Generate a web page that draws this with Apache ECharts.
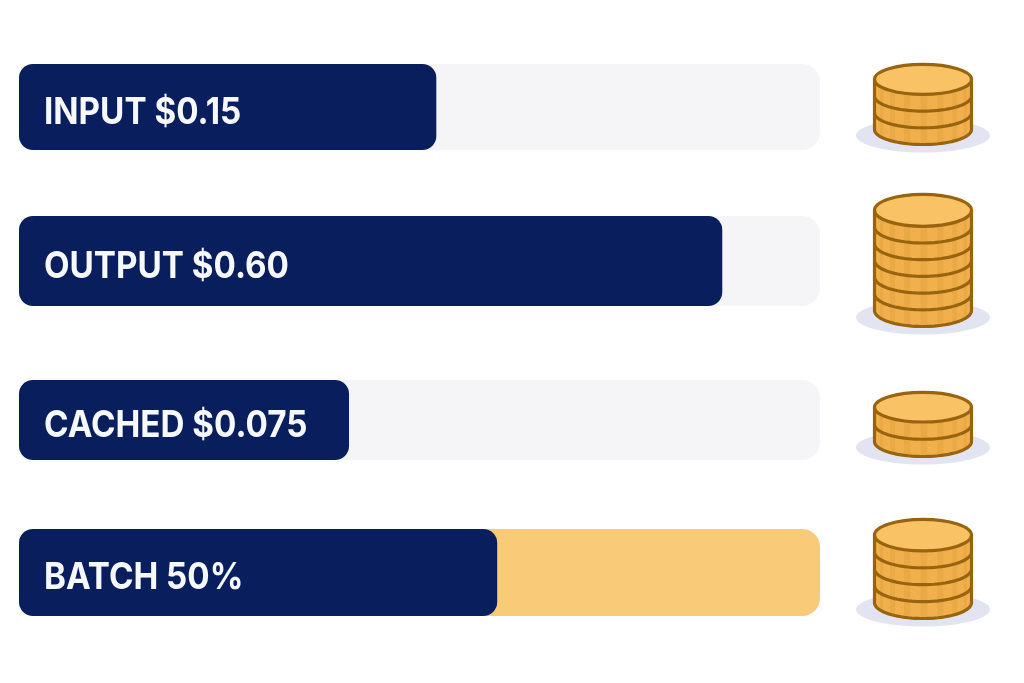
<!DOCTYPE html>
<html>
<head>
<meta charset="utf-8">
<style>html,body{margin:0;padding:0;background:#fff}#c{width:1024px;height:683px}</style>
<script src="https://cdn.jsdelivr.net/npm/echarts@6/dist/echarts.min.js"></script>
</head>
<body>
<div id="c"></div>
<script>
// ---- data ----
var categories = ['INPUT', 'OUTPUT', 'CACHED', 'BATCH'];
var priceLabels = ['$0.15', '$0.60', '$0.075', '50%'];
var fillShare = [52.1, 87.8, 41.2, 59.7];   // navy fill as % of the track
var coinCounts = [3, 6, 2, 4];

// ---- layout and style (pixels) ----
var rowNudge = [0, -1, 3, 0.5];
var rowHeight = [86, 90, 80, 87];
var coinBase = [37.5, 65.5, 36.5, 46];
var coinStep = [16.7, 16.7, 17.25, 16.9];
var coinFaceRy = [15, 16, 14.8, 15.8];
var coinGap = 103, coinRx = 48.5;
var NAVY = '#091e5d', TRACK = '#f5f5f8', GOLD = '#f9cb78';
var EDGE = '#99640f', FACE = '#f9c265', SIDE = '#f1b04c', RIDGE = '#e9aa45', SHADOW = '#e2e5f1';

function arc(cx, cy, rx, ry, from, to, n) {
  var pts = [];
  for (var k = 0; k <= n; k++) {
    var t = from + (to - from) * k / n;
    pts.push([cx + rx * Math.cos(t), cy + ry * Math.sin(t)]);
  }
  return pts;
}

function renderRow(params, api) {
  var i = api.value(0);
  var fill = api.value(1);
  var c0 = api.coord([0, i]);
  var c1 = api.coord([fill, i]);
  var c2 = api.coord([100, i]);
  var h = rowHeight[i];
  var cy = c0[1] + rowNudge[i];
  var top = cy - h / 2;
  return {
    type: 'group',
    children: [
      { type: 'rect', shape: { x: c0[0], y: top, width: c2[0] - c0[0], height: h, r: 18 },
        style: { fill: categories[i] === 'BATCH' ? GOLD : TRACK } },
      { type: 'rect', shape: { x: c0[0], y: top, width: c1[0] - c0[0], height: h, r: 14 },
        style: { fill: NAVY } },
      { type: 'text', x: c0[0] + 25, y: cy + 5.5, scaleY: 1.12,
        style: { text: categories[i] + ' ' + priceLabels[i], x: 0, y: 0,
          fill: '#f7f8fc', font: 'bold 33.2px Inter', textAlign: 'left', textVerticalAlign: 'middle' } }
    ]
  };
}

function renderCoins(params, api) {
  var i = api.value(0);
  var n = api.value(1);
  var c = api.coord([100, i]);
  var cx = c[0] + coinGap;
  var bottom = c[1] + rowNudge[i] + coinBase[i];
  var step = coinStep[i];
  var coinRy = coinFaceRy[i];
  var kids = [{ type: 'ellipse',
    shape: { cx: cx, cy: bottom - 9, rx: 67, ry: 17 }, style: { fill: SHADOW } }];
  for (var k = 0; k < n; k++) {
    var ellBottom = bottom - k * step;          // lowest point of this coin
    var lowY = ellBottom - coinRy;
    var upY = lowY - step;
    var body = arc(cx, lowY, coinRx, coinRy, 0, Math.PI, 40)
      .concat(arc(cx, upY, coinRx, coinRy, Math.PI, 2 * Math.PI, 40));
    kids.push({ type: 'polygon', shape: { points: body }, style: { fill: SIDE } });
    for (var s = 0; s < 18; s++) {
      if (s % 2) continue;
      var a0 = Math.PI * (s + 0.5) / 18, a1 = Math.PI * (s + 1.3) / 18;
      var p = arc(cx, lowY, coinRx, coinRy, a0, a1, 3);
      var q = arc(cx, upY, coinRx, coinRy, a1, a0, 3);
      kids.push({ type: 'polygon', shape: { points: p.concat(q) }, style: { fill: RIDGE } });
    }
    kids.push({ type: 'polyline',
      shape: { points: [[cx + coinRx, upY]].concat(arc(cx, lowY, coinRx, coinRy, 0, Math.PI, 40), [[cx - coinRx, upY]]) },
      style: { fill: 'none', stroke: EDGE, lineWidth: 3.2, lineJoin: 'round' } });
  }
  kids.push({ type: 'ellipse',
    shape: { cx: cx, cy: bottom - n * step - coinRy, rx: coinRx, ry: coinRy },
    style: { fill: FACE, stroke: EDGE, lineWidth: 3.2 } });
  return { type: 'group', children: kids };
}

var chart = echarts.init(document.getElementById('c'), null, { renderer: 'canvas' });
chart.setOption({
  animation: false,
  backgroundColor: '#ffffff',
  grid: { left: 19, width: 801, top: 29.5, height: 620 },
  xAxis: { type: 'value', min: 0, max: 100, show: false },
  yAxis: { type: 'category', data: categories, inverse: true, show: false },
  series: [
    { type: 'custom', name: 'Price', renderItem: renderRow, clip: false,
      encode: { x: 1, y: 0 },
      data: fillShare.map(function (v, i) { return [i, v]; }) },
    { type: 'custom', name: 'Coins', renderItem: renderCoins, clip: false,
      encode: { y: 0 },
      data: coinCounts.map(function (v, i) { return [i, v]; }) }
  ]
});
</script>
</body>
</html>
